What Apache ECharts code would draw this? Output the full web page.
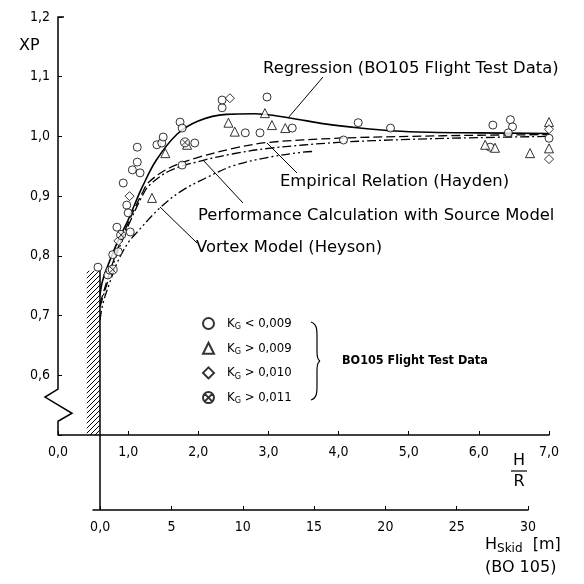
<!DOCTYPE html>
<html><head><meta charset="utf-8">
<script src="https://cdn.jsdelivr.net/npm/echarts@6/dist/echarts.min.js"></script>
<style>html,body{margin:0;padding:0;background:#fff}#c{width:584px;height:584px}</style>
</head><body><div id="c"></div>
<script>
// Hover power ratio XP in ground effect versus height over rotor radius H/R
const hrTicks = [0, 1, 2, 3, 4, 5, 6, 7];
const skidTicks = [0, 5, 10, 15, 20, 25, 30];
const skidRange = [-0.5, 30];
const xpRange = [0.5, 1.2];
const skidZeroHR = 0.6;           // H/R at skid height 0 m
const groundBand = [0.41, 0.775]; // hatched band: left H/R edge, top XP

// curves [H/R, XP]
const regression = [[0.6,0.735],[0.64,0.76],[0.8,0.81],[0.93,0.843],[1.0,0.86],[1.1,0.888],[1.2,0.915],[1.4,0.96],[1.7,1.004],[2.0,1.026],[2.4,1.037],[2.8,1.038],[3.3,1.031],[3.8,1.021],[4.3,1.014],[4.8,1.009],[5.3,1.007],[6.0,1.006],[7.0,1.005]];
const empirical = [[0.6,0.72],[0.8,0.795],[1.0,0.855],[1.2,0.905],[1.3,0.924],[1.6,0.948],[2.0,0.965],[2.5,0.98],[3.0,0.99],[4.0,0.997],[5.0,1.0],[6.0,1.002],[7.0,1.003]];
const performance = [[0.6,0.715],[0.8,0.79],[1.0,0.85],[1.2,0.9],[1.3,0.918],[1.6,0.943],[2.07,0.96],[2.5,0.971],[3.0,0.98],[4.0,0.99],[5.0,0.995],[6.0,0.998],[7.0,1.0]];
const vortex = [[0.6,0.693],[0.64,0.72],[0.74,0.756],[0.85,0.79],[1.0,0.822],[1.13,0.84],[1.45,0.88],[1.75,0.908],[2.1,0.93],[2.5,0.951],[3.0,0.965],[3.45,0.973],[3.65,0.975]];

// flight test points [H/R, XP]
const kgBelow009 = [[0.57,0.781],[0.71,0.768],[0.74,0.776],[0.78,0.802],[0.86,0.807],[0.84,0.848],[1.03,0.84],[0.98,0.885],[1.0,0.872],[0.93,0.922],[1.06,0.944],[1.13,0.957],[1.17,0.939],[1.13,0.982],[1.41,0.986],[1.48,0.989],[1.5,0.999],[1.74,1.024],[1.77,1.014],[1.95,0.989],[1.77,0.952],[2.34,1.048],[2.34,1.061],[2.67,1.006],[2.88,1.006],[2.98,1.066],[3.34,1.014],[4.28,1.023],[4.07,0.994],[4.74,1.014],[6.2,1.019],[6.45,1.028],[6.48,1.016],[6.42,1.006],[6.16,0.982],[7.0,0.997]];
const kgAbove009 = [[1.34,0.897],[1.53,0.972],[1.84,0.986],[2.43,1.023],[2.52,1.008],[2.95,1.039],[3.05,1.019],[3.24,1.014],[6.09,0.986],[6.23,0.981],[6.73,0.972],[7.0,1.024],[7.0,0.98]];
const kgAbove010 = [[0.86,0.825],[1.02,0.9],[2.45,1.064],[7.0,1.012],[7.0,0.962]];
const kgAbove011 = [[0.78,0.777],[0.9,0.835],[1.81,0.99]];

const FONT = 'DejaVu Sans Condensed';
const WIDE = 'DejaVu Sans';
const comma = v => v.toFixed(1).replace('.', ',');

// diagonal hatch for the ground band
const hatch = document.createElement('canvas');
hatch.width = 5; hatch.height = 5;
(function () {
  const g = hatch.getContext('2d');
  g.strokeStyle = '#000'; g.lineWidth = 1;
  g.beginPath();
  g.moveTo(-1, 6); g.lineTo(6, -1);
  g.moveTo(-1, 1); g.lineTo(1, -1);
  g.moveTo(4, 6); g.lineTo(6, 4);
  g.stroke();
})();

const crossedCircle = 'path://M0,5A5,5 0 1 1 10,5A5,5 0 1 1 0,5ZM1.6,1.6L8.4,8.4M8.4,1.6L1.6,8.4';
const hollow = { color: '#fff', borderColor: '#000', borderWidth: 1 };

function pointSeries(name, data, symbol, size) {
  return { name, type: 'scatter', data, symbol, symbolSize: size, itemStyle: hollow,
           xAxisIndex: 0, yAxisIndex: 0, z: 5, silent: true };
}
function curve(name, data, dash, width) {
  return { name, type: 'line', data, smooth: 0.35, showSymbol: false, silent: true,
           lineStyle: { color: '#000', width, type: dash }, z: 3 };
}

const legendNames = ['KG < 0,009', 'KG > 0,009', 'KG > 0,010', 'KG > 0,011'];

const option = {
  backgroundColor: '#fff',
  animation: false,
  textStyle: { fontFamily: FONT, color: '#000' },
  grid: [
    { left: 58, right: 35, top: 17, bottom: 149 },
    { left: 93, right: 56, top: 435, bottom: 74 }
  ],
  xAxis: [
    { type: 'value', gridIndex: 0, min: 0, max: 7, interval: 1,
      axisLine: { show: true, lineStyle: { color: '#000', width: 1.5 } },
      axisTick: { show: true, inside: true, length: 4, lineStyle: { color: '#000' } },
      splitLine: { show: false },
      axisLabel: { formatter: v => comma(v), fontSize: 14, color: '#000', margin: 10, fontFamily: FONT } },
    { type: 'value', gridIndex: 1, min: skidRange[0], max: skidRange[1],
      axisLine: { show: true, onZero: false, lineStyle: { color: '#000', width: 1.5 } },
      axisTick: { show: true, inside: true, length: 4, customValues: skidTicks, lineStyle: { color: '#000' } },
      splitLine: { show: false },
      axisLabel: { customValues: skidTicks, formatter: v => v === 0 ? '0,0' : String(v),
                   fontSize: 14, color: '#000', margin: 10, fontFamily: FONT } }
  ],
  yAxis: [
    { type: 'value', gridIndex: 0, min: xpRange[0], max: xpRange[1], interval: 0.1,
      axisLine: { show: false },
      axisTick: { show: true, inside: true, length: 4, lineStyle: { color: '#000' } },
      splitLine: { show: false },
      axisLabel: { formatter: v => v < 0.55 ? '' : comma(v), fontSize: 14, color: '#000', margin: 8, fontFamily: FONT } },
    { type: 'value', gridIndex: 1, min: 0, max: 1, show: false }
  ],
  legend: {
    orient: 'vertical', left: 197, top: 312, itemWidth: 11, itemHeight: 11, itemGap: 10.2,
    data: legendNames, selectedMode: false,
    formatter: n => '{k|K}{g|G}{k|' + n.slice(2) + '}',
    textStyle: { padding: [0, 0, 0, 8], rich: {
      k: { fontSize: 13, fontFamily: FONT, color: '#000' },
      g: { fontSize: 9, fontFamily: FONT, color: '#000', padding: [7, 0, 0, 0] } } }
  },
  series: [
    Object.assign(curve('regression', regression, 'solid', 1.6), {
      markArea: { silent: true, itemStyle: { color: { image: hatch, repeat: 'repeat' }, borderWidth: 0 },
        data: [[{ coord: [groundBand[0], xpRange[0]] }, { coord: [skidZeroHR, groundBand[1]] }]] },
      markLine: { silent: true, symbol: 'none', label: { show: false },
        lineStyle: { color: '#000', width: 1.5, type: 'solid' },
        data: [[{ coord: [skidZeroHR, xpRange[0]] }, { coord: [skidZeroHR, groundBand[1]] }]] }
    }),
    curve('empirical', empirical, [9, 4], 1.3),
    curve('performance', performance, [9, 3, 2, 3], 1.3),
    curve('vortex', vortex, [9, 3, 2, 3, 2, 3], 1.3),
    pointSeries(legendNames[0], kgBelow009, 'circle', 8),
    pointSeries(legendNames[1], kgAbove009, 'triangle', 9),
    pointSeries(legendNames[2], kgAbove010, 'diamond', 9),
    pointSeries(legendNames[3], kgAbove011, crossedCircle, 9),
    { type: 'line', xAxisIndex: 1, yAxisIndex: 1, data: [], silent: true,
      markLine: { silent: true, symbol: 'none', label: { show: false },
        lineStyle: { color: '#000', width: 1.5, type: 'solid' },
        data: [[{ coord: [0, 0] }, { coord: [0, 1] }]] } }
  ]
};

const chart = echarts.init(document.getElementById('c'));
chart.setOption(option);

const P = (h, xp) => chart.convertToPixel({ gridIndex: 0 }, [h, xp]);
const axTop = P(0, xpRange[1]);
const axBot = P(0, xpRange[0]);
const ax = axTop[0];
const zzTop = P(0, 0.577)[1], zzBot = P(0, 0.523)[1];

const txt = (x, y, s, size, extra) => ({ type: 'text', x, y, silent: true,
  style: Object.assign({ text: s, fontSize: size, fontFamily: WIDE, fill: '#000', textVerticalAlign: 'middle' }, extra || {}) });
const seg = (x1, y1, x2, y2, w) => ({ type: 'line', silent: true,
  shape: { x1, y1, x2, y2 }, style: { stroke: '#000', lineWidth: w || 1 } });
const bez = (x1, y1, cpx1, cpy1, cpx2, cpy2, x2, y2) => ({ type: 'bezierCurve', silent: true,
  shape: { x1, y1, cpx1, cpy1, cpx2, cpy2, x2, y2 }, style: { stroke: '#000', lineWidth: 1.2, fill: null } });

chart.setOption({ graphic: [
  // y axis with break symbol
  { type: 'polyline', silent: true,
    shape: { points: [[ax + 6, axTop[1]], [ax, axTop[1]], [ax, zzTop], [ax - 13, zzTop + 8], [ax + 14, zzBot - 8], [ax, zzBot], [ax, axBot[1]]] },
    style: { stroke: '#000', lineWidth: 1.5, fill: null } },
  txt(19, 46, 'XP', 16),
  // curve annotations
  txt(263, 69, 'Regression (BO105 Flight Test Data)', 16.4),
  seg(323, 77, 288, 118),
  txt(280, 182, 'Empirical Relation (Hayden)', 16.4),
  seg(267, 143, 297, 173),
  txt(198, 216, 'Performance Calculation with Source Model', 16.4),
  seg(203, 160, 243, 203),
  txt(196, 248, 'Vortex Model (Heyson)', 16.4),
  seg(160, 207, 197, 243),
  // brace grouping the test data legend
  bez(311, 322, 317, 324, 317, 330, 317, 336),
  seg(317, 336, 317, 352, 1.2),
  bez(317, 352, 317, 358, 318, 360, 320, 361),
  bez(320, 361, 318, 362, 317, 364, 317, 370),
  seg(317, 370, 317, 386, 1.2),
  bez(317, 386, 317, 392, 317, 398, 311, 400),
  txt(342, 361, 'BO105 Flight Test Data', 12.5, { fontWeight: 'bold', fontFamily: FONT }),
  // H/R axis title
  txt(519, 461, 'H', 16, { textAlign: 'center' }),
  seg(511, 471, 527, 471, 1.2),
  txt(519, 482, 'R', 16, { textAlign: 'center' }),
  // skid height axis title
  { type: 'text', x: 485, y: 545, silent: true,
    style: { text: '{h|H}{s|Skid}{h|  [m]}', textVerticalAlign: 'middle', rich: {
      h: { fontSize: 16, fontFamily: WIDE, color: '#000' },
      s: { fontSize: 12, fontFamily: WIDE, color: '#000', padding: [7, 0, 0, 0] } } } },
  txt(485, 568, '(BO 105)', 16)
] });
</script>
</body></html>
